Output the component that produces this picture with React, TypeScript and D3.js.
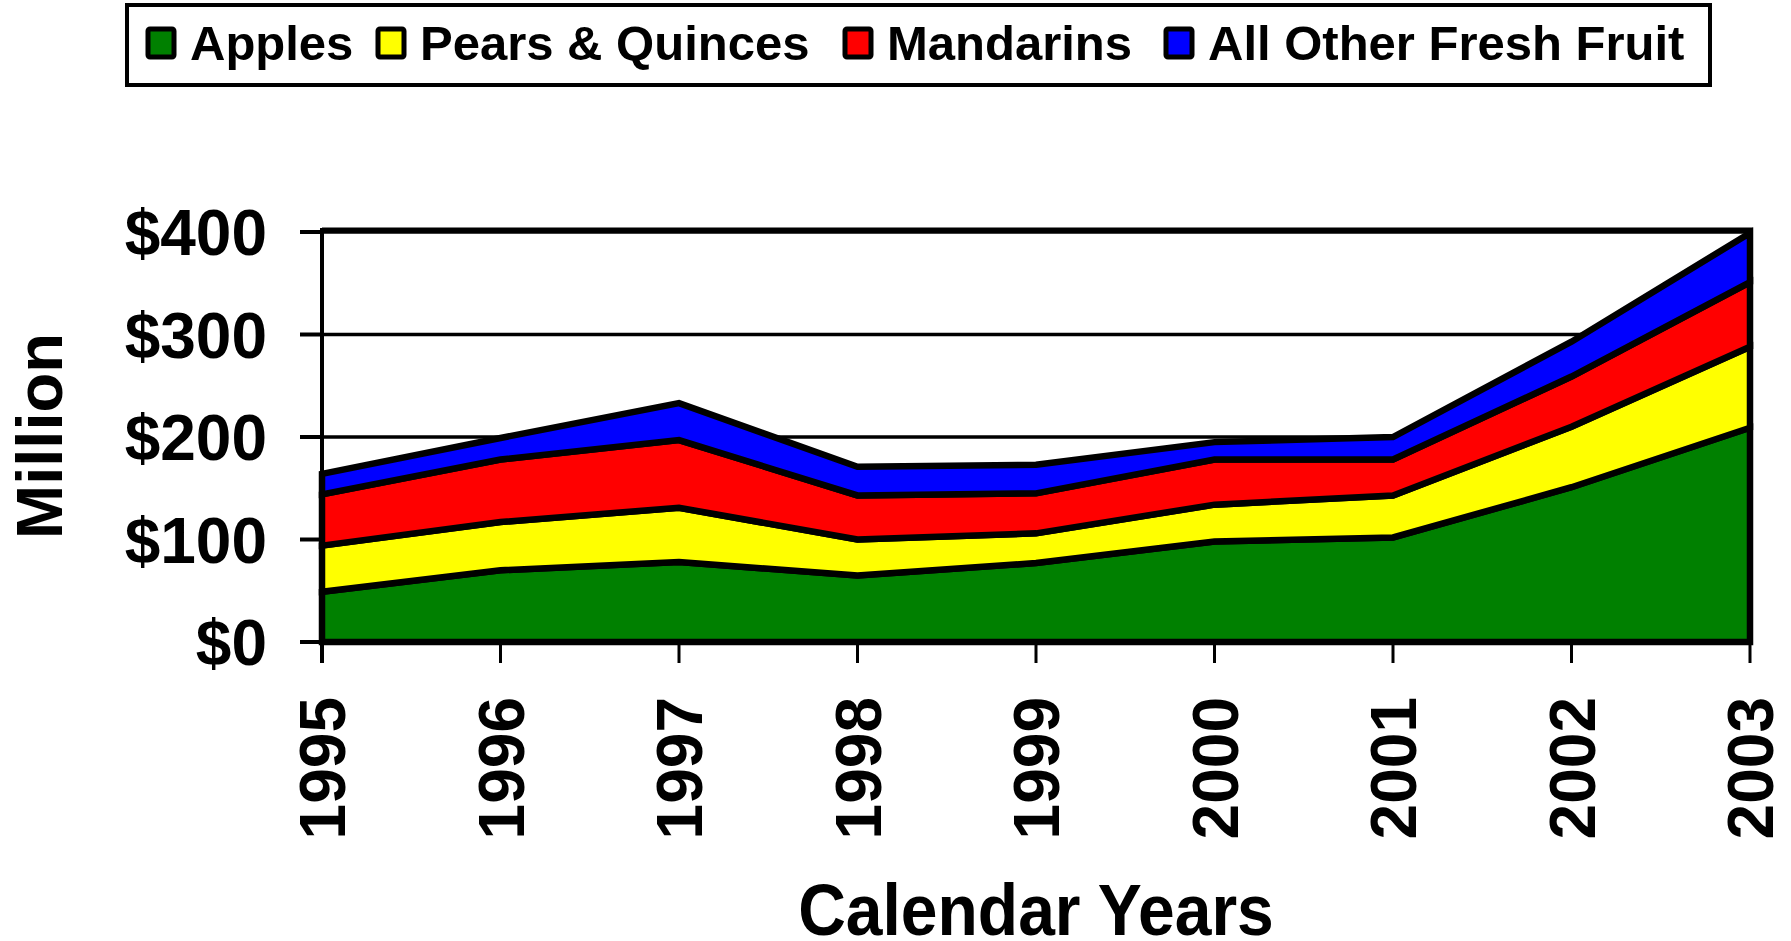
import React, { useEffect, useRef } from 'react';
import * as d3 from 'd3';

// values ($ million, stacked)
const years = ['1995', '1996', '1997', '1998', '1999', '2000', '2001', '2002', '2003'];
const apples = [49, 70, 78, 65, 77, 98, 102, 151, 209];
const pears = [45, 47, 53, 35, 29, 36, 41, 59, 79];
const mandarins = [50, 61, 66, 43, 39, 44, 35, 49, 63];
const otherFruit = [20, 21, 36, 28, 28, 17, 22, 34, 48];
const yTicks = [0, 100, 200, 300, 400];

const seriesKeys = ['Apples', 'Pears & Quinces', 'Mandarins', 'All Other Fresh Fruit'];
const seriesColors = ['#008000', '#ffff00', '#ff0000', '#0000ff'];

const W = 1791;
const H = 941;
const FONT = '"Liberation Sans", Arial, sans-serif';

export default function App() {
  const svgRef = useRef<SVGSVGElement>(null);

  useEffect(() => {
    if (!svgRef.current) return;
    const svg = d3.select(svgRef.current);
    svg.selectAll('*').remove();

    const rows = years.map((yr, i) => ({
      year: yr,
      'Apples': apples[i],
      'Pears & Quinces': pears[i],
      'Mandarins': mandarins[i],
      'All Other Fresh Fruit': otherFruit[i],
    }));

    const x = d3.scalePoint<string>().domain(years).range([322, 1750]);
    const y = d3.scaleLinear().domain([0, 400]).range([642, 232]);

    const stack = d3.stack<any>().keys(seriesKeys);
    const layers = stack(rows);

    // horizontal gridlines
    svg.append('g')
      .selectAll('line')
      .data(yTicks.filter(t => t > 0))
      .join('line')
      .attr('x1', x('1995')!)
      .attr('x2', x('2003')!)
      .attr('y1', d => y(d))
      .attr('y2', d => y(d))
      .attr('stroke', '#000')
      .attr('stroke-width', 3.5);

    // top frame edge
    svg.append('line')
      .attr('x1', x('1995')!)
      .attr('x2', x('2003')! + 3)
      .attr('y1', y(400) - 2)
      .attr('y2', y(400) - 2)
      .attr('stroke', '#000')
      .attr('stroke-width', 5);

    // stacked areas
    const area = d3.area<any>()
      .x(d => x(d.data.year)!)
      .y0(d => y(d[0]))
      .y1(d => y(d[1]));

    svg.append('g')
      .selectAll('path')
      .data(layers)
      .join('path')
      .attr('d', d => area(d))
      .attr('fill', (_, i) => seriesColors[i])
      .attr('stroke', '#000')
      .attr('stroke-width', 6.5)
      .attr('stroke-linejoin', 'miter');

    // y axis
    const yAxis = svg.append('g');
    yAxis.append('line')
      .attr('x1', 322).attr('x2', 322)
      .attr('y1', y(400) - 4).attr('y2', 663)
      .attr('stroke', '#000').attr('stroke-width', 4);
    yAxis.selectAll('line.tick')
      .data(yTicks)
      .join('line')
      .attr('class', 'tick')
      .attr('x1', 300).attr('x2', 322)
      .attr('y1', d => y(d)).attr('y2', d => y(d))
      .attr('stroke', '#000').attr('stroke-width', 4);
    yAxis.selectAll('text')
      .data(yTicks)
      .join('text')
      .attr('x', 267)
      .attr('y', d => y(d))
      .attr('dy', '0.36em')
      .attr('text-anchor', 'end')
      .attr('font-family', FONT)
      .attr('font-weight', 'bold')
      .attr('font-size', 64)
      .text(d => `$${d}`);

    // x axis
    const xAxis = svg.append('g');
    xAxis.append('line')
      .attr('x1', 322).attr('x2', x('2003')!)
      .attr('y1', 642).attr('y2', 642)
      .attr('stroke', '#000').attr('stroke-width', 4);
    xAxis.selectAll('line.tick')
      .data(years)
      .join('line')
      .attr('class', 'tick')
      .attr('x1', d => x(d)!).attr('x2', d => x(d)!)
      .attr('y1', 642).attr('y2', 663)
      .attr('stroke', '#000').attr('stroke-width', 3);
    xAxis.selectAll('text')
      .data(years)
      .join('text')
      .attr('transform', d => `translate(${x(d)},697) rotate(-90)`)
      .attr('dy', '0.36em')
      .attr('text-anchor', 'end')
      .attr('font-family', FONT)
      .attr('font-weight', 'bold')
      .attr('font-size', 64)
      .text(d => d);

    // axis titles
    svg.append('text')
      .attr('transform', 'translate(62,436) rotate(-90)')
      .attr('text-anchor', 'middle')
      .attr('font-family', FONT)
      .attr('font-weight', 'bold')
      .attr('font-size', 65)
      .text('Million');

    svg.append('text')
      .attr('transform', 'translate(1036,935) scale(1,1.1)')
      .attr('text-anchor', 'middle')
      .attr('font-family', FONT)
      .attr('font-weight', 'bold')
      .attr('font-size', 66)
      .text('Calendar Years');

    // legend
    const legend = svg.append('g');
    legend.append('rect')
      .attr('x', 127).attr('y', 5)
      .attr('width', 1583).attr('height', 80)
      .attr('fill', '#fff')
      .attr('stroke', '#000')
      .attr('stroke-width', 4);

    const swatchX = [146, 376, 843, 1164];
    const item = legend.selectAll('g')
      .data(seriesKeys)
      .join('g')
      .attr('transform', (_, i) => `translate(${swatchX[i]},0)`);
    item.append('rect')
      .attr('x', 2).attr('y', 29)
      .attr('width', 26).attr('height', 28)
      .attr('rx', 2)
      .attr('fill', (_, i) => seriesColors[i])
      .attr('stroke', '#000')
      .attr('stroke-width', 5);
    item.append('text')
      .attr('x', 44)
      .attr('y', 60)
      .attr('font-family', FONT)
      .attr('font-weight', 'bold')
      .attr('font-size', 49)
      .text(d => d);
  }, []);

  return (
    <div style={{ position: 'absolute', left: 0, top: 0, width: W, height: H, background: '#fff' }}>
      <svg ref={svgRef} width={W} height={H} style={{ display: 'block' }} />
    </div>
  );
}
